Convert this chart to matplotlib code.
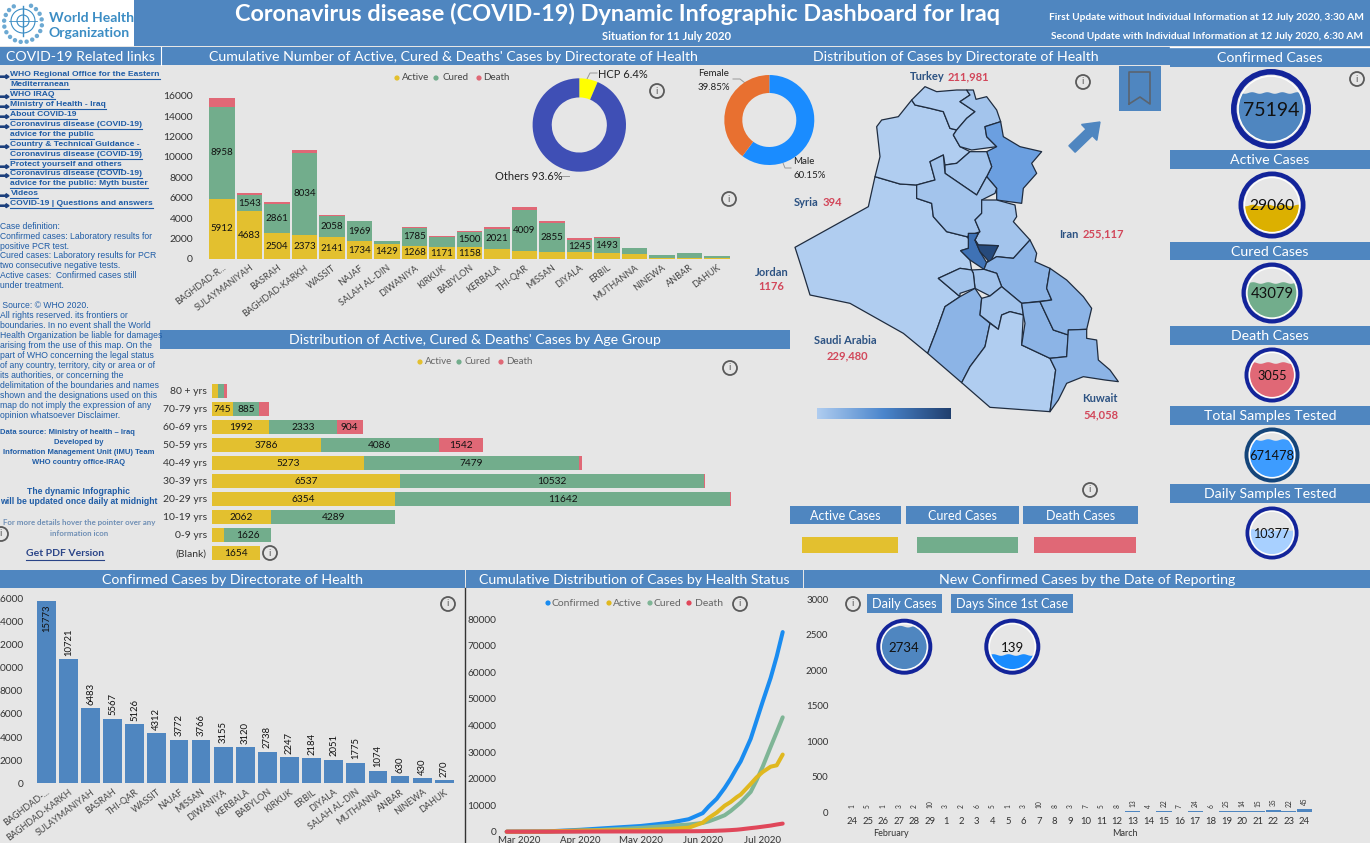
import numpy as np
import pandas as pd
import matplotlib
matplotlib.use("Agg")
import matplotlib.pyplot as plt
import matplotlib.dates as mdates
from matplotlib.patches import Circle, Rectangle, Polygon, FancyArrow
from matplotlib.colors import LinearSegmentedColormap

plt.rcParams['font.family'] = ['Lato', 'DejaVu Sans']

W, H = 1370, 843
BG = '#e6e6e6'
BAND = '#4f86c0'
ACTIVE = '#e3c02f'
CURED = '#72ad8c'
DEATH = '#e06876'
LINK = '#1f5ca6'
NAVY = '#2c5282'
RED = '#d2475a'

# stacked bars by directorate
dir_names = ['BAGHDAD-R...', 'SULAYMANIYAH', 'BASRAH', 'BAGHDAD-KARKH', 'WASSIT', 'NAJAF', 'SALAH AL-DIN',
             'DIWANIYA', 'KIRKUK', 'BABYLON', 'KERBALA', 'THI-QAR', 'MISSAN', 'DIYALA', 'ERBIL',
             'MUTHANNA', 'NINEWA', 'ANBAR', 'DAHUK']
dir_active = [5912, 4683, 2504, 2373, 2141, 1734, 1429, 1268, 1171, 1158, 950, 780, 720, 650, 560, 450, 130, 100, 60]
dir_cured = [8958, 1543, 2861, 8034, 2058, 1969, 290, 1785, 1006, 1500, 2021, 4009, 2855, 1245, 1493, 594, 250, 510, 205]
dir_death = [903, 257, 202, 314, 113, 69, 56, 102, 70, 80, 149, 337, 191, 156, 131, 30, 50, 20, 5]

# age groups
age_names = ['80 + yrs', '70-79 yrs', '60-69 yrs', '50-59 yrs', '40-49 yrs', '30-39 yrs', '20-29 yrs',
             '10-19 yrs', '0-9 yrs', '(Blank)']
age_active = [220, 745, 1992, 3786, 5273, 6537, 6354, 2062, 430, 1654]
age_cured = [197, 885, 2333, 4086, 7479, 10532, 11642, 4289, 1626, 0]
age_death = [93, 360, 904, 1542, 90, 50, 30, 10, 5, 0]

# confirmed by directorate
conf_names = ['BAGHDAD-...', 'BAGHDAD-KARKH', 'SULAYMANIYAH', 'BASRAH', 'THI-QAR', 'WASSIT', 'NAJAF', 'MISSAN',
              'DIWANIYA', 'KERBALA', 'BABYLON', 'KIRKUK', 'ERBIL', 'DIYALA', 'SALAH AL-DIN', 'MUTHANNA',
              'ANBAR', 'NINEWA', 'DAHUK']
conf_values = [15773, 10721, 6483, 5567, 5126, 4312, 3772, 3766, 3155, 3120, 2738, 2247, 2184, 2051, 1775, 1074,
               630, 430, 270]

# cumulative lines
line_dates = pd.to_datetime(['2020-02-24', '2020-03-15', '2020-04-01', '2020-04-15', '2020-05-01', '2020-05-15',
                             '2020-05-25', '2020-06-01', '2020-06-04', '2020-06-08', '2020-06-12', '2020-06-15',
                             '2020-06-18', '2020-06-20', '2020-06-25', '2020-06-28', '2020-07-01', '2020-07-05',
                             '2020-07-08', '2020-07-11'])
line_confirmed = [1, 110, 730, 1400, 2150, 3300, 4700, 7000, 9500, 12400, 16500, 20000, 24000, 26500, 35000, 42000,
                  49000, 58000, 66000, 75194]
line_active = [1, 90, 470, 500, 600, 1000, 1500, 3400, 5200, 7200, 9800, 11200, 13000, 14000, 18000, 20500, 22500,
               24500, 25000, 29060]
line_cured = [0, 15, 200, 850, 1450, 2200, 2700, 3300, 3900, 5000, 6200, 7800, 9700, 11000, 15000, 19500, 24500,
              32000, 37500, 43079]
line_death = [0, 5, 50, 80, 100, 120, 165, 215, 270, 360, 480, 600, 750, 900, 1350, 1600, 1900, 2300, 2700, 3055]

# new cases
day_labels = ['24', '25', '26', '27', '28', '29'] + [str(d) for d in range(1, 25)]
day_values = [1, 5, 1, 3, 2, 10, 3, 2, 6, 5, 1, 3, 10, 8, 3, 7, 5, 8, 13, 4, 22, 7, 24, 6, 25, 14, 15, 35, 22, 45]

# donuts
hcp_values = [6.4, 93.6]
gender_values = [60.15, 39.85]

# gauges: label, centre, radius, water level (pixels), fill, ring
gauges = [('75194', 1271, 109, 40, 93, BAND, '#13249a', 14),
          ('29060', 1272, 205, 33.5, 205.5, '#dcb000', '#13249a', 11.2),
          ('43079', 1272, 293, 30.5, 283, CURED, '#13249a', 10.7),
          ('3055', 1272, 375, 27.5, 363, DEATH, '#13249a', 9.2),
          ('671478', 1272, 455, 27.5, 440, '#3d9cff', '#14457a', 9.3),
          ('10377', 1272, 533, 26.5, 530, '#a8d0ff', '#13249a', 9),
          ('2734', 904.3, 646.7, 28, 626.7, BAND, '#13249a', 9.5),
          ('139', 1012.3, 646.7, 28, 655, '#1a8cff', '#13249a', 9.5)]

# map outlines (Anbar first)
map_light = '#b0cdf0'
map_mid = '#a3c4ec'
map_strong = '#8cb4e6'
regions = [
    (map_light, [(15,622),(235,500),(255,410),(330,432),(380,435),(380,475),(425,490),(430,530),(470,575),(530,590),(540,600),(535,625),(512,632),(540,660),(545,690),(510,685),(445,715),(510,770),(465,800),(440,870),(413,940),(340,880),(180,790),(60,765),(40,700)]),
    (map_light, [(255,410),(270,350),(260,260),(275,240),(325,230),(365,180),(375,195),(420,205),(460,215),(480,265),(500,270),(490,285),(510,320),(540,335),(500,370),(465,375),(460,345),(420,365),(435,420),(380,435),(330,432)]),
    (map_light, [(365,180),(405,140),(440,155),(500,150),(530,150),(540,165),(510,185),(555,215),(530,235),(500,270),(480,265),(460,215),(420,205),(375,195)]),
    (map_mid, [(530,150),(550,150),(558,178),(590,170),(620,210),(632,245),(585,260),(590,290),(620,320),(545,330),(510,320),(490,285),(500,270),(530,235),(555,215),(510,185),(540,165)]),
    ('#6b9fe0', [(585,260),(632,245),(640,290),(690,320),(755,335),(725,370),(740,400),(700,445),(695,490),(620,480),(620,445),(590,410),(605,380),(590,335),(620,320),(590,290)]),
    (map_mid, [(540,335),(590,335),(605,380),(590,410),(560,465),(465,400),(465,375),(500,370)]),
    (map_mid, [(380,435),(435,420),(420,365),(460,345),(465,400),(560,465),(590,410),(620,445),(615,460),(575,480),(575,520),(555,540),(570,575),(530,590),(470,575),(430,530),(425,490),(380,475)]),
    (map_mid, [(575,480),(620,480),(675,495),(680,530),(670,545),(720,600),(670,655),(620,650),(590,668),(625,617),(565,615),(555,600),(565,580),(570,575),(555,540),(575,520)]),
    ('#3f72b5', [(535,580),(565,580),(555,600),(570,635),(590,668),(582,688),(540,660),(512,632),(535,625)]),
    ('#264a7c', [(555,600),(565,615),(625,617),(600,668),(570,635)]),
    (map_strong, [(720,600),(740,640),(735,665),(780,685),(770,745),(785,780),(695,790),(635,740),(620,700),(582,688),(590,668),(620,650),(670,655)]),
    (map_mid, [(545,690),(582,688),(620,700),(635,740),(600,768),(555,745),(550,700)]),
    (map_mid, [(445,715),(510,685),(545,690),(550,700),(555,745),(510,760),(510,770)]),
    (map_strong, [(510,770),(555,745),(575,775),(570,825),(600,850),(585,920),(540,980),(515,1028),(413,940),(440,870),(465,800)]),
    (map_mid, [(575,775),(600,768),(635,740),(695,790),(700,825),(660,815),(635,825),(625,868),(570,825)]),
    (map_light, [(515,1028),(540,980),(585,920),(600,850),(625,868),(635,825),(660,815),(700,825),(695,915),(780,955),(797,990),(780,1115),(600,1102)]),
    (map_strong, [(695,790),(750,785),(790,870),(835,885),(830,950),(780,955),(695,915),(705,850),(700,825)]),
    (map_strong, [(780,685),(830,720),(880,770),(905,805),(890,868),(835,870),(835,885),(790,870),(750,785),(785,780),(770,745)]),
    (map_strong, [(835,870),(890,868),(890,895),(920,900),(925,960),(960,990),(985,1025),(945,1020),(880,1010),(830,1030),(805,1080),(780,1115),(797,990),(780,955),(830,950)]),
]

left_links = [(74.7, 'WHO Regional Office for the Eastern', 1), (84.7, 'Mediterranean', 0), (94.7, 'WHO IRAQ', 1),
              (104.7, 'Ministry of Health - Iraq', 1), (114.7, 'About COVID-19', 1),
              (124.7, 'Coronavirus disease (COVID-19)', 1), (134.7, 'advice for the public', 0),
              (144.7, 'Country & Technical Guidance -', 1), (154.7, 'Coronavirus disease (COVID-19)', 0),
              (164.7, 'Protect yourself and others', 1), (173.7, 'Coronavirus disease (COVID-19)', 1),
              (183.7, 'advice for the public: Myth buster', 0), (193.7, 'Videos', 1),
              (203.7, 'COVID-19 | Questions and answers', 1)]
left_notes = [(226.7, 'Case definition:'), (236.7, 'Confirmed cases: Laboratory results for'), (246.7, 'positive PCR test.'),
              (255.7, 'Cured cases: Laboratory results for PCR'), (265.7, 'two consecutive negative tests.'),
              (275.7, 'Active cases:  Confirmed cases still'), (285.7, 'under treatment.'),
              (305.7, ' Source: © WHO 2020.'), (315.7, 'All rights reserved. its frontiers or'),
              (325.7, 'boundaries. In no event shall the World'), (336, 'Health Organization be liable for damages'),
              (345, 'arising from the use of this map. On the'), (355, 'part of WHO concerning the legal status'),
              (365, 'of any country, territory, city or area or of'), (375, 'its authorities, or concerning the'),
              (385, 'delimitation of the boundaries and names'), (395, 'shown and the designations used on this'),
              (405, 'map do not imply the expression of any'), (415, 'opinion whatsoever Disclaimer.')]

info_spots = [(657, 91), (729, 199), (1083, 82), (1357, 79), (730, 368), (270, 553), (1, 534), (448, 604), (740, 604),
              (853, 604), (1090, 490)]

fig = plt.figure(figsize=(W / 100, H / 100), dpi=100, facecolor=BG)
bg = fig.add_axes([0, 0, 1, 1])
bg.set_xlim(0, W)
bg.set_ylim(H, 0)
bg.axis('off')


def px_axes(x0, y0, x1, y1):
    a = fig.add_axes([x0 / W, 1 - y1 / H, (x1 - x0) / W, (y1 - y0) / H])
    a.patch.set_alpha(0)
    for s in a.spines.values():
        s.set_visible(False)
    a.tick_params(length=0)
    return a


def put(x, y, s, size=7, color='black', weight='normal', ha='left', family=None, **kw):
    fam = family if family else ['Lato', 'DejaVu Sans']
    return bg.text(x, y, s, fontsize=size, color=color, fontweight=weight, ha=ha, va='center', family=fam, **kw)


def band(x0, y0, x1, y1, title=None, size=10.2):
    bg.add_patch(Rectangle((x0, y0), x1 - x0, y1 - y0, fc=BAND, ec='none'))
    if title:
        put((x0 + x1) / 2, (y0 + y1) / 2 + 0.8, title, size=size, color='white', ha='center')


def underline(t, y, color):
    box = t.get_window_extent(fig.canvas.get_renderer())
    bg.plot([box.x0, box.x1], [y, y], color=color, lw=0.8)


def info(x, y):
    bg.add_patch(Circle((x, y), 7, fc='none', ec='#5a5a5a', lw=1.3))
    put(x, y, 'i', size=7, color='#5a5a5a', ha='center')


def dots(y, items, color='#444444', size=7):
    for dx, tx, label, c in items:
        bg.add_patch(Circle((dx, y), 2.6, fc=c, ec='none'))
        put(tx, y, label, size=size, color=color)


def gauge(label, cx, cy, r, level, fill, ring, size):
    inner = r * 0.82
    clip = Circle((cx, cy), inner, transform=bg.transData, fc='none', ec='none')
    bg.add_patch(clip)
    xs = np.linspace(cx - r, cx + r, 120)
    water, = bg.fill(np.r_[xs, xs[::-1]],
                     np.r_[level + np.sin((xs - cx) / 2.4) * 0.8, np.full(120, cy + r)],
                     color=fill, lw=0)
    water.set_clip_path(clip)
    bg.add_patch(Circle((cx, cy), inner, fc='none', ec='white', lw=0.9))
    bg.add_patch(Circle((cx, cy), r * 0.93, fc='none', ec=ring, lw=r * 0.14 * 0.72))
    put(cx, cy + 1, label, size=size, color='#111111', ha='center')


# bands
band(134, 0, W, 46)
put(617.5, 14, 'Coronavirus disease (COVID-19) Dynamic Infographic Dashboard for Iraq', size=16.9, color='white',
    weight='bold', ha='center')
put(667, 36.5, 'Situation for 11 July 2020', size=8, color='white', weight='bold', ha='center')
put(1049, 17.5, 'First Update without Individual Information at 12 July 2020, 3:30 AM', size=7.3, color='white',
    weight='bold')
put(1051, 36.5, 'Second Update with Individual Information at 12 July 2020, 6:30 AM', size=7.3, color='white',
    weight='bold')

# logo
bg.add_patch(Rectangle((0, 0), 134, 46, fc='white', ec='none'))
for r in (6, 12):
    bg.add_patch(Circle((23, 21), r, fc='none', ec='#3c8dc4', lw=0.8))
bg.plot([23, 23], [6, 36], color='#3c8dc4', lw=1)
bg.plot([9, 37], [21, 21], color='#3c8dc4', lw=0.6)
for ang in np.deg2rad(np.arange(25, 340, 18)):
    bg.add_patch(Circle((23 + 19 * np.sin(ang), 23 - 19 * np.cos(ang)), 2.2, fc='#3c8dc4', ec='none', alpha=0.75))
put(49, 18, 'World Health', size=10.1, color='#3c8dc4', weight='bold')
put(49, 33, 'Organization', size=10.1, color='#3c8dc4', weight='bold')

band(0, 46.5, 161, 65, 'COVID-19 Related links')
band(162, 46.5, 790, 65)
put(453, 57, "Cumulative Number of Active, Cured & Deaths' Cases by Directorate of Health", size=10.2, color='white',
    ha='center')
band(790, 46.5, 1170, 65)
put(956, 57, 'Distribution of Cases by Directorate of Health', size=10.2, color='white', ha='center')
bg.plot([1170, W], [47.3, 47.3], color='white', lw=1)
bg.plot([161.5, 161.5], [47, 65], color='white', lw=0.8)
band(160, 330, 790, 349, "Distribution of Active, Cured & Deaths' Cases by Age Group")
band(0, 570, 465, 588, 'Confirmed Cases by Directorate of Health')
band(466, 570, 803, 588, 'Cumulative Distribution of Cases by Health Status')
band(804, 570, W, 588, 'New Confirmed Cases by the Date of Reporting')
bg.plot([465, 465], [588, H], color='#333333', lw=1)
for title, y0, y1 in [('Confirmed Cases', 47.3, 66.7), ('Active Cases', 150, 168.7), ('Cured Cases', 241.7, 260.3),
                      ('Death Cases', 326, 344.7), ('Total Samples Tested', 406, 424.7),
                      ('Daily Samples Tested', 484, 502.7)]:
    band(1170, y0, W, y1, title)
band(867, 594, 942, 613, 'Daily Cases', size=9.2)
band(951, 594, 1073, 613, 'Days Since 1st Case', size=9.2)
band(790, 506, 901, 524, 'Active Cases', size=9)
band(906, 506, 1019, 524, 'Cured Cases', size=9)
band(1023, 506, 1138, 524, 'Death Cases', size=9)
bg.add_patch(Rectangle((802, 537), 96, 16, fc=ACTIVE, ec='none'))
bg.add_patch(Rectangle((917, 537), 101, 16, fc=CURED, ec='none'))
bg.add_patch(Rectangle((1034, 537), 102, 16, fc=DEATH, ec='none'))

# left column
for y, s, arrow in left_links:
    t = put(10.5, y, s, size=6.1, color=LINK, family='Liberation Sans', weight='bold')
    underline(t, y + 3.9, LINK)
    if arrow:
        bg.add_patch(FancyArrow(0, y + 2, 9, 0, width=1.2, head_width=4, head_length=3,
                                length_includes_head=True, color='#1c3f7c'))
for y, s in left_notes:
    put(0, y, s, size=6.2, color=LINK, family='Liberation Sans')
put(0, 433, 'Data source: Ministry of health – Iraq', size=5.5, color=LINK, weight='bold', family='Liberation Sans')
put(79, 443, 'Developed by', size=5.5, color=LINK, weight='bold', ha='center', family='Liberation Sans')
put(79, 453, 'Information Management Unit (IMU) Team', size=5.5, color=LINK, weight='bold', ha='center',
    family='Liberation Sans')
put(79, 463, 'WHO country office-IRAQ', size=5.5, color=LINK, weight='bold', ha='center', family='Liberation Sans')
put(79, 492, 'The dynamic Infographic', size=6.2, color=LINK, weight='bold', ha='center', family='Liberation Sans')
put(79, 502, 'will be updated once daily at midnight', size=6.2, color=LINK, weight='bold', ha='center',
    family='Liberation Sans')
put(79, 522, 'For more details hover the pointer over any', size=5.7, color='#6f8fb5', weight='bold', ha='center')
put(79, 533, 'information icon', size=5.7, color='#6f8fb5', weight='bold', ha='center')
t = put(65, 554, 'Get PDF Version', size=7.5, color='#2a4488', weight='bold', ha='center')
underline(t, 559.5, '#2a4488')

# chart 1: stacked by directorate
ax1 = px_axes(208.25, 95.7, 730.75, 259)
a1 = np.array(dir_active)
c1 = np.array(dir_cured)
d1 = np.array(dir_death)
x1 = np.arange(len(dir_names))
ax1.bar(x1, a1, width=0.91, color=ACTIVE)
ax1.bar(x1, c1, width=0.91, bottom=a1, color=CURED)
ax1.bar(x1, d1, width=0.91, bottom=a1 + c1, color=DEATH)
for i in x1:
    if a1[i] > 1100:
        ax1.text(i, a1[i] / 2, str(a1[i]), ha='center', va='center', fontsize=7, color='#111111')
    if c1[i] > 1100:
        ax1.text(i, a1[i] + c1[i] / 2, str(c1[i]), ha='center', va='center', fontsize=7, color='#111111')
ax1.set_xlim(-0.5, 18.5)
ax1.set_ylim(0, 16000)
ax1.set_yticks(range(0, 16001, 2000))
ax1.tick_params(axis='y', labelsize=7.5, pad=11, labelcolor='#333333')
ax1.set_xticks(x1)
ax1.set_xticklabels(dir_names, rotation=37, ha='right', rotation_mode='anchor', fontsize=6.5, color='#444444')
ax1.tick_params(axis='x', pad=3)
dots(78, [(397, 402, 'Active', ACTIVE), (436, 443, 'Cured', CURED), (479, 483, 'Death', DEATH)])

# donuts
ax_hcp = px_axes(579.3 - 46.7, 125 - 46.7, 579.3 + 46.7, 125 + 46.7)
ax_hcp.pie(hcp_values, colors=['#ffff00', '#3f4fb5'], startangle=90, counterclock=False, radius=1,
           wedgeprops={'width': 0.41})
ax_hcp.set_xlim(-1, 1)
ax_hcp.set_ylim(-1, 1)
put(598, 74, 'HCP 6.4%', size=8, color='#222222')
put(494.7, 177, 'Others 93.6%', size=8, color='#222222')
bg.plot([587, 590, 597], [79, 73, 73], color='#999999', lw=0.7)
bg.plot([561, 569], [176, 176], color='#999999', lw=0.7)

ax_gender = px_axes(769.3 - 45, 120 - 45, 769.3 + 45, 120 + 45)
ax_gender.pie(gender_values, colors=['#1a8cff', '#e87030'], startangle=90, counterclock=False, radius=1,
              wedgeprops={'width': 0.4})
ax_gender.set_xlim(-1, 1)
ax_gender.set_ylim(-1, 1)
put(698, 74, 'Female', size=7, color='#222222')
put(698, 87, '39.85%', size=7, color='#222222')
put(793.3, 162, 'Male', size=7, color='#222222')
put(793.3, 176, '60.15%', size=7, color='#222222')
bg.plot([733, 740, 745], [79, 79, 83], color='#999999', lw=0.7)
bg.plot([783, 785, 791], [163, 168, 168], color='#999999', lw=0.7)

# chart 2: age groups
ax2 = px_axes(212, 381.7, 732, 561.7)
a2 = np.array(age_active)
c2 = np.array(age_cured)
d2 = np.array(age_death)
y2 = np.arange(len(age_names))
ax2.barh(y2, a2, height=0.78, color=ACTIVE)
ax2.barh(y2, c2, height=0.78, left=a2, color=CURED)
ax2.barh(y2, d2, height=0.78, left=a2 + c2, color=DEATH)
for i in y2:
    for val, start in [(a2[i], 0), (c2[i], a2[i]), (d2[i], a2[i] + c2[i])]:
        if val >= 700:
            ax2.text(start + val / 2, i + 0.05, str(val), ha='center', va='center', fontsize=7.3, color='#111111')
ax2.set_xlim(0, 520 / 0.0288)
ax2.set_ylim(9.5, -0.5)
ax2.set_xticks([])
ax2.set_yticks(y2)
ax2.set_yticklabels(age_names, fontsize=7.5, color='#333333')
ax2.tick_params(axis='y', pad=3.8)
dots(362, [(420, 425, 'Active', ACTIVE), (459, 465, 'Cured', CURED), (501, 506, 'Death', DEATH)], color='#666666')

# chart 3: confirmed
ax3 = px_axes(35.25, 598.3, 455.35, 783.3)
x3 = np.arange(len(conf_names))
ax3.bar(x3, conf_values, width=0.85, color=BAND)
for i, v in zip(x3, conf_values):
    if i == 0:
        ax3.text(i, v - 300, str(v), rotation=90, ha='center', va='top', fontsize=6.8, color='#111111')
    else:
        ax3.text(i, v + 300, str(v), rotation=90, ha='center', va='bottom', fontsize=6.8, color='#111111')
ax3.set_xlim(-0.5, 18.5)
ax3.set_ylim(0, 16000)
ax3.set_yticks(range(0, 16001, 2000))
ax3.tick_params(axis='y', labelsize=7.3, pad=8.8, labelcolor='#333333')
ax3.set_xticks(x3)
ax3.set_xticklabels(conf_names, rotation=37, ha='right', rotation_mode='anchor', fontsize=6.5, color='#444444')
ax3.tick_params(axis='x', pad=3)

# chart 4: cumulative lines
ax4 = px_axes(506.7, 619.3, 782.7, 831.7)
for vals, col in [(line_confirmed, '#1a8cf0'), (line_cured, '#7fb596'), (line_active, '#e0b81f'), (line_death, '#e0475a')]:
    ax4.plot(line_dates, vals, color=col, lw=2.9, solid_capstyle='round', clip_on=False)
ax4.set_xlim(pd.Timestamp('2020-02-24'), pd.Timestamp('2020-07-11'))
ax4.set_ylim(0, 80000)
ax4.set_yticks(range(0, 80001, 10000))
ax4.tick_params(axis='y', labelsize=7.3, pad=7.5, labelcolor='#333333')
ax4.xaxis.set_major_locator(mdates.MonthLocator())
ax4.xaxis.set_major_formatter(mdates.DateFormatter('%b %Y'))
ax4.tick_params(axis='x', labelsize=7, pad=3.3, labelcolor='#333333')
dots(603, [(548, 552, 'Confirmed', '#1a8cf0'), (609, 613, 'Active', '#e0b81f'), (650, 654, 'Cured', '#7fb596'),
           (689, 695, 'Death', '#e0475a')], color='#666666', size=7.5)

# chart 5: new cases
ax5 = px_axes(844.2, 599.3, 1312.2, 812.3)
x5 = np.arange(len(day_values))
ax5.bar(x5, day_values, width=0.98, color=BAND)
for i, v in zip(x5, day_values):
    ax5.text(i, v + 55, str(v), rotation=90, ha='center', va='bottom', fontsize=4.8, color='#333333')
ax5.axhline(0, color='#9fb4cc', lw=0.6)
ax5.set_xlim(-0.5, 29.5)
ax5.set_ylim(0, 3000)
ax5.set_yticks(range(0, 3001, 500))
ax5.tick_params(axis='y', labelsize=7, pad=11.5, labelcolor='#333333')
ax5.set_xticks(x5)
ax5.set_xticklabels(day_labels, fontsize=6.8, color='#333333')
ax5.tick_params(axis='x', pad=3.4)
put(890.7, 834, 'February', size=6.5, color='#333333', ha='center')
put(1125, 834, 'March', size=6.5, color='#333333', ha='center')

# map
ax_map = px_axes(790, 40, 1170, 430)
ax_map.set_xlim(0, 1140)
ax_map.set_ylim(1170, 0)
ax_map.set_xticks([])
ax_map.set_yticks([])
for col, pts in regions:
    ax_map.add_patch(Polygon(pts, closed=True, fc=col, ec='#1f2c3f', lw=0.9, joinstyle='round'))

grad = LinearSegmentedColormap.from_list('g', [map_light, '#4a85cc', '#203f6e'])
ax_grad = px_axes(816.7, 408, 950, 419)
ax_grad.imshow(np.linspace(0, 1, 256)[None, :], aspect='auto', cmap=grad)
ax_grad.set_xticks([])
ax_grad.set_yticks([])

# neighbours
put(910, 77, 'Turkey', size=8, color=NAVY, weight='bold')
put(948, 77, '211,981', size=8, color=RED, weight='bold')
put(794, 203, 'Syria', size=8, color=NAVY, weight='bold')
put(823, 203, '394', size=8, color=RED, weight='bold')
put(1059, 234, 'Iran', size=8, color=NAVY, weight='bold')
put(1083, 234, '255,117', size=8, color=RED, weight='bold')
put(771.5, 272, 'Jordan', size=8, color=NAVY, weight='bold', ha='center')
put(771.5, 287, '1176', size=8, color=RED, weight='bold', ha='center')
put(845, 341, 'Saudi Arabia', size=8, color=NAVY, weight='bold', ha='center')
put(847, 356, '229,480', size=8, color=RED, weight='bold', ha='center')
put(1100, 399, 'Kuwait', size=8, color=NAVY, weight='bold', ha='center')
put(1101, 415, '54,058', size=8, color=RED, weight='bold', ha='center')

# bookmark button and arrow
bg.add_patch(FancyArrow(1072, 149, 28, -27, width=9, head_width=22, head_length=15, length_includes_head=True,
                        color=BAND))
bg.add_patch(Rectangle((1119, 66), 42, 45, fc=BAND, ec='none'))
bg.plot([1129, 1129, 1150, 1150, 1140, 1129], [104, 72, 72, 104, 97, 104], color='#5a6470', lw=1.2)

for g in gauges:
    gauge(*g)
for x, y in info_spots:
    info(x, y)

fig.savefig('out.png', dpi=100, facecolor=BG)
